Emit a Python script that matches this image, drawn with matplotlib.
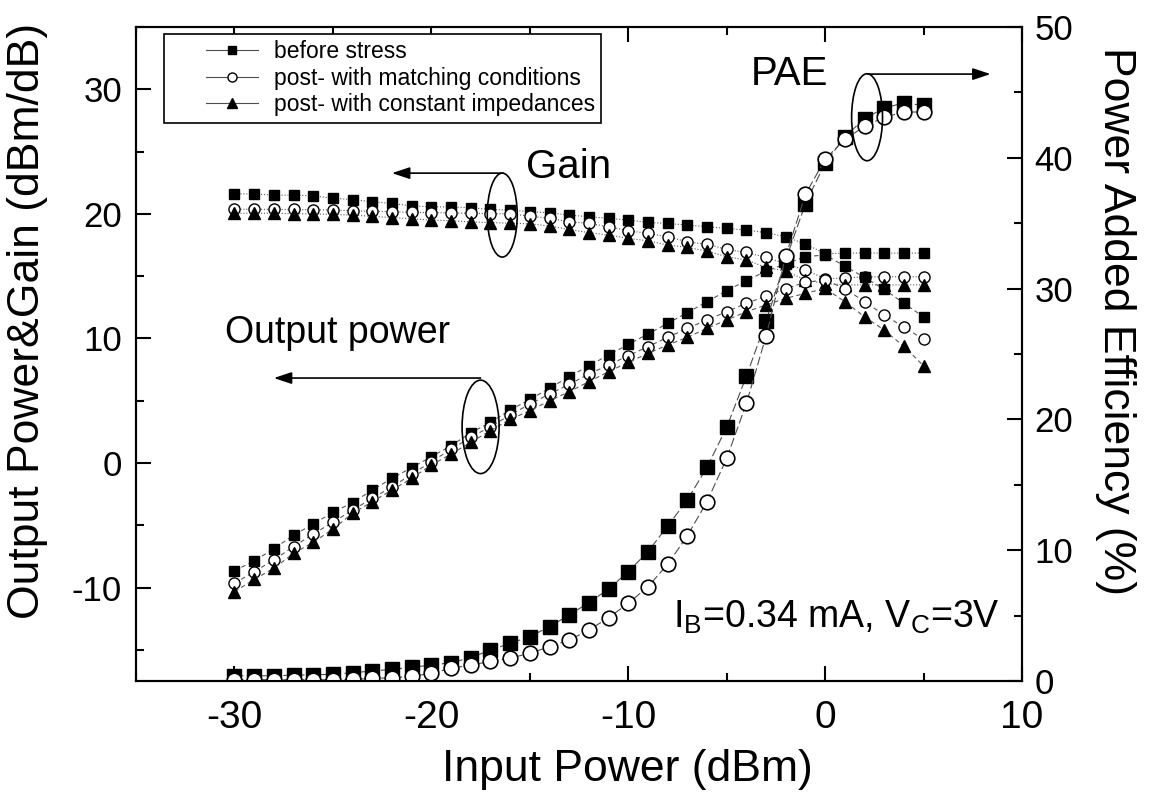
import numpy as np
import matplotlib
matplotlib.use("Agg")
import matplotlib.pyplot as plt
from matplotlib import font_manager
from matplotlib.patches import Ellipse
from matplotlib.lines import Line2D
from matplotlib.legend_handler import HandlerLine2D

plt.rcParams['font.family'] = ['Liberation Sans', 'DejaVu Sans']
plt.rcParams['mathtext.fontset'] = 'custom'
plt.rcParams['mathtext.rm'] = 'Liberation Sans'
plt.rcParams['axes.unicode_minus'] = False

# input power sweep (dBm)
pin = np.arange(-30, 6)

# gain (dB), left axis
gain_before = [21.6, 21.6, 21.5, 21.5, 21.45, 21.25, 21.15, 20.97, 20.84, 20.63,
               20.57, 20.55, 20.49, 20.36, 20.3, 20.17, 20.09, 19.9, 19.77, 19.64,
               19.5, 19.31, 19.23, 19.1, 18.97, 18.83, 18.7, 18.49, 18.16, 17.58,
               16.8, 16.85, 16.85, 16.85, 16.85, 16.85]
gain_match = [20.37, 20.37, 20.35, 20.35, 20.33, 20.3, 20.25, 20.2, 20.17, 20.12,
              20.1, 20.07, 20.04, 20.02, 20.0, 19.82, 19.64, 19.37, 19.23, 18.97,
              18.65, 18.43, 18.16, 17.76, 17.55, 17.15, 16.9, 16.5, 16.0, 15.49,
              14.8, 14.85, 14.95, 14.95, 14.95, 14.95]
gain_const = [20.05, 20.05, 20.05, 20.0, 20.0, 19.95, 19.9, 19.8, 19.7, 19.6,
              19.5, 19.45, 19.35, 19.3, 19.25, 19.2, 19.02, 18.75, 18.49, 18.3,
              18.03, 17.84, 17.5, 17.31, 17.01, 16.56, 16.29, 15.7, 15.4, 14.7,
              14.4, 14.3, 14.3, 14.3, 14.3, 14.3]

# output power (dBm), left axis
pout_before = [-8.64, -7.87, -6.88, -5.8, -4.9, -3.96, -3.18, -2.17, -1.23, -0.37,
               0.51, 1.39, 2.43, 3.26, 4.25, 5.11, 6.0, 6.93, 7.81, 8.67,
               9.52, 10.35, 11.21, 12.07, 12.95, 13.83, 14.65, 15.4, 16.0, 16.56,
               16.7, 15.8, 14.9, 13.94, 12.82, 11.74]
pout_match = [-9.66, -8.72, -7.78, -6.71, -5.7, -4.76, -3.77, -2.84, -1.9, -0.91,
              0.11, 1.1, 2.06, 2.92, 3.85, 4.73, 5.54, 6.31, 7.14, 7.87,
              8.61, 9.34, 10.09, 10.81, 11.48, 12.15, 12.82, 13.4, 14.0, 14.5,
              14.7, 14.0, 12.95, 11.88, 10.9, 9.93]
pout_const = [-10.33, -9.34, -8.45, -7.25, -6.37, -5.3, -4.04, -3.1, -2.17, -1.23,
              -0.16, 0.72, 1.66, 2.6, 3.5, 4.2, 5.0, 5.72, 6.53, 7.33,
              8.08, 8.8, 9.47, 10.09, 10.81, 11.48, 12.15, 12.68, 13.22, 13.62,
              14.02, 12.95, 11.74, 10.67, 9.36, 7.8]

# power added efficiency (%), right axis
pae_before = [0.4, 0.4, 0.4, 0.45, 0.48, 0.51, 0.64, 0.76, 0.89, 1.04,
              1.22, 1.4, 1.78, 2.37, 2.88, 3.39, 4.15, 5.05, 5.99, 7.03,
              8.36, 9.89, 11.85, 13.84, 16.34, 19.4, 23.3, 27.5, 32.2, 36.5,
              39.6, 41.6, 43.0, 43.8, 44.2, 44.0]
pae_match = [0.1, 0.1, 0.1, 0.1, 0.1, 0.1, 0.12, 0.2, 0.25, 0.35,
             0.59, 0.97, 1.22, 1.5, 1.75, 2.12, 2.62, 3.13, 3.9, 4.84,
             5.94, 7.21, 8.92, 11.11, 13.71, 17.02, 21.23, 26.38, 32.5, 37.2,
             39.9, 41.4, 42.4, 43.1, 43.5, 43.5]

labels = ['before stress', 'post- with matching conditions',
          'post- with constant impedances']

names = {f.name for f in font_manager.fontManager.ttflist}
narrow = 'Liberation Sans Narrow' in names

fig = plt.figure(figsize=(11.53, 8.01), dpi=100)
ax1 = fig.add_axes([0.118, 0.1498, 0.7684, 0.8165])
ax2 = ax1.twinx()

ln = dict(color='0.35', lw=0.8)
sq = dict(marker='s', ms=7.5, mfc='k', mec='k', mew=1.0)
ci = dict(marker='o', ms=8, mfc='white', mec='k', mew=1.0)
tr = dict(marker='^', ms=9, mfc='k', mec='k', mew=1.0)

# gain: dotted, output power: dashed
ax1.plot(pin, gain_before, ls=':', **ln, **sq)
ax1.plot(pin, gain_match, ls=':', **ln, **ci)
ax1.plot(pin, gain_const, ls=':', **ln, **tr)
ax1.plot(pin, pout_before, ls='--', dashes=(4, 3), **ln, **sq)
ax1.plot(pin, pout_match, ls='--', dashes=(4, 3), **ln, **ci)
ax1.plot(pin, pout_const, ls='--', dashes=(4, 3), **ln, **tr)

# PAE, bigger markers
ax2.plot(pin, pae_before, ls='--', dashes=(8, 3), color='0.3', lw=0.8,
         marker='s', ms=10, mfc='k', mec='k', mew=1.0)
ax2.plot(pin, pae_match, ls='--', dashes=(8, 3), color='0.3', lw=0.8,
         marker='o', ms=10.5, mfc='white', mec='k', mew=1.2)

ax1.set_xlim(-35, 10)
ax1.set_ylim(-17.5, 35)
ax2.set_ylim(0, 50)
ax1.set_xticks([-30, -20, -10, 0, 10])
ax1.set_xticks(np.arange(-35, 11, 5), minor=True)
ax1.set_yticks([-10, 0, 10, 20, 30])
ax1.set_yticks(np.arange(-15, 36, 5), minor=True)
ax2.set_yticks(np.arange(0, 51, 10))
ax2.set_yticks(np.arange(5, 50, 10), minor=True)

ax1.tick_params(which='both', direction='in', top=True, right=False, width=1.5)
ax1.tick_params(which='major', length=11)
ax1.tick_params(which='minor', length=6)
ax1.tick_params(axis='y', labelsize=25, pad=10)
ax2.tick_params(which='both', direction='in', width=1.5, labelsize=25, pad=9)
ax2.tick_params(which='major', length=11)
ax2.tick_params(which='minor', length=6)

if narrow:
    ax1.tick_params(axis='x', labelsize=33, pad=14)
    for lab in ax1.get_xticklabels():
        lab.set_family(['Liberation Sans Narrow', 'Liberation Sans'])
else:
    ax1.tick_params(axis='x', labelsize=28, pad=14)

for ax in (ax1, ax2):
    for s in ax.spines.values():
        s.set_linewidth(1.5)

ax1.set_xlabel('Input Power (dBm)', fontsize=32, labelpad=9)
ax1.xaxis.label.set_x(0.555)
ax1.set_ylabel('Output Power&Gain (dBm/dB)', fontsize=32, labelpad=17)
ax1.yaxis.label.set_y(0.55)
ax2.set_ylabel('Power Added Efficiency (%)', fontsize=32, rotation=270,
               va='bottom', labelpad=16)
ax2.yaxis.label.set_y(0.55)

# annotations
ax1.text(-3.8, 30.34, 'PAE', fontsize=29)
ax1.text(-15.2, 22.87, 'Gain', fontsize=29)
ax1.text(-30.5, 9.63, 'Output power', fontsize=27)
ax1.text(-7.75, -13.24, r'I$_\mathrm{B}$=0.34 mA, V$_\mathrm{C}$=3V', fontsize=27)

ax1.add_patch(Ellipse((-16.4, 19.9), 1.52, 6.74, fill=False, ec='k', lw=1.2, zorder=5))
ax1.add_patch(Ellipse((-17.5, 2.9), 1.88, 7.5, fill=False, ec='k', lw=1.2, zorder=5))
ax2.add_patch(Ellipse((2.13, 43.1), 1.57, 6.65, fill=False, ec='k', lw=1.2, zorder=5))

arrow = dict(arrowstyle='-|>,head_length=0.6,head_width=0.2', color='k', lw=1.2,
             shrinkA=0, shrinkB=0, mutation_scale=18)
ax1.annotate('', xy=(-22.0, 23.27), xytext=(-16.35, 23.27), arrowprops=arrow)
ax1.annotate('', xy=(-28.0, 6.82), xytext=(-17.5, 6.82), arrowprops=arrow)
ax2.annotate('', xy=(8.4, 46.4), xytext=(2.18, 46.4), arrowprops=arrow)

# legend
handles = [
    Line2D([], [], color='0.3', lw=0.8, marker='s', ms=6, mfc='k', mec='k'),
    Line2D([], [], color='0.3', lw=0.8, marker='o', ms=6.5, mfc='white', mec='k'),
    Line2D([], [], color='0.3', lw=0.8, marker='^', ms=7, mfc='k', mec='k'),
]
fs = 16.5
leg = ax1.legend(handles, labels, loc='upper left', bbox_to_anchor=(0.0316, 0.9893),
                 borderaxespad=0, fontsize=fs, frameon=True, fancybox=False,
                 edgecolor='k', framealpha=1, borderpad=0.28, labelspacing=0.15,
                 handlelength=3.84, handletextpad=0.66,
                 handler_map={Line2D: HandlerLine2D(xpad=1.57)})
leg.get_frame().set_linewidth(1.2)
leg.set_zorder(10)

fig.savefig('out.png', dpi=100)
